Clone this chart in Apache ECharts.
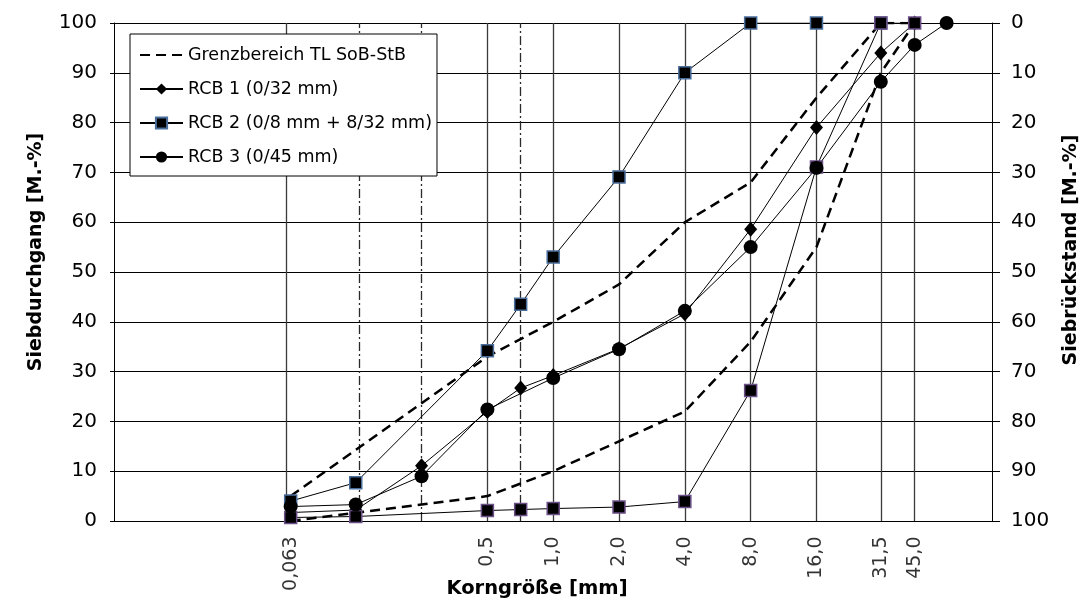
<!DOCTYPE html>
<html>
<head>
<meta charset="utf-8">
<script src="https://cdn.jsdelivr.net/npm/echarts@6/dist/echarts.min.js"></script>
<style>
  html, body { margin: 0; padding: 0; background: #fff; }
  #chart { width: 1087px; height: 602px; }
</style>
</head>
<body>
<div id="chart"></div>
<script>
// Sieve sizes [mm] shown on the logarithmic grain-size axis
const labelledSieves = [0.063, 0.5, 1, 2, 4, 8, 16, 31.5, 45];
const sieveLabels = ['0,063', '0,5', '1,0', '2,0', '4,0', '8,0', '16,0', '31,5', '45,0'];
const solidGridSieves = [0.063, 0.5, 1, 2, 4, 8, 16, 31.5, 45];
const dashDotGridSieves = [0.125, 0.25, 0.71];

// Grading envelope TL SoB-StB (passing, M.-%)
const limitSieves = [0.063, 0.5, 1, 2, 4, 8, 16, 31.5, 45];
const limitUpper = [5, 33, 40, 47.5, 60, 68, 85, 100, 100];
const limitLower = [0, 5, 10, 16, 22, 36, 55, 90, 100];

// RCB 1 (0/32 mm)
const rcb1Sieves = [0.063, 0.125, 0.25, 0.5, 0.71, 1, 2, 4, 8, 16, 31.5, 45];
const rcb1 = [1.7, 2.2, 11.1, 22, 26.7, 29.2, 34.6, 41.6, 58.6, 79, 94, 100];

// RCB 2 (0/8 mm fraction and 8/32 mm fraction)
const rcb2FineSieves = [0.063, 0.125, 0.5, 0.71, 1, 2, 4, 8, 16, 31.5];
const rcb2Fine = [4.0, 7.7, 34.2, 43.5, 53, 69.1, 90, 100, 100, 100];
const rcb2CoarseSieves = [0.063, 0.125, 0.5, 0.71, 1, 2, 4, 8, 16, 31.5, 45];
const rcb2Coarse = [0.7, 0.9, 2.1, 2.3, 2.5, 2.8, 3.9, 26.2, 71.1, 100, 100];

// RCB 3 (0/45 mm)
const rcb3Sieves = [0.063, 0.125, 0.25, 0.5, 1, 2, 4, 8, 16, 31.5, 45, 63];
const rcb3 = [2.9, 3.3, 9.0, 22.4, 28.7, 34.5, 42.2, 55, 70.9, 88.2, 95.6, 100];

const NAME_LIMIT = 'Grenzbereich TL SoB-StB';
const NAME_RCB1 = 'RCB 1 (0/32 mm)';
const NAME_RCB2 = 'RCB 2 (0/8 mm + 8/32 mm)';
const NAME_RCB3 = 'RCB 3 (0/45 mm)';

const FONT = '"DejaVu Sans", "Liberation Sans", Arial, sans-serif';

const pairs = (xs, ys) => xs.map((x, i) => [x, ys[i]]);

const thinLine = { color: '#000', width: 1 };

const gridLines = solidGridSieves.map(v => ({
  xAxis: v, lineStyle: { color: '#3a3a3a', width: 1.3, type: 'solid' }
})).concat(dashDotGridSieves.map(v => ({
  xAxis: v, lineStyle: { color: '#2a2a2a', width: 1.3, type: [9, 3, 2, 3] }
})));

const chart = echarts.init(document.getElementById('chart'), null, { renderer: 'canvas' });

chart.setOption({
  animation: false,
  backgroundColor: '#fff',
  textStyle: { fontFamily: FONT, color: '#000' },
  grid: { left: 114, right: 95, top: 23, bottom: 81, containLabel: false },
  xAxis: {
    type: 'log',
    logBase: 2,
    min: 0.0098,
    max: 101.6,
    axisLine: { show: true, lineStyle: { color: '#000', width: 1 } },
    axisTick: { show: false },
    axisLabel: { show: false },
    splitLine: { show: false }
  },
  yAxis: [
    {
      type: 'value', min: 0, max: 100, interval: 10, position: 'left',
      axisLine: { show: true, lineStyle: { color: '#000', width: 1 } },
      axisTick: { show: true, length: 4, lineStyle: { color: '#000' } },
      axisLabel: { fontSize: 20, fontFamily: FONT, color: '#000', margin: 17 },
      splitLine: { show: true, lineStyle: { color: '#000', width: 1 } }
    },
    {
      type: 'value', min: 0, max: 100, interval: 10, position: 'right', inverse: true,
      axisLine: { show: true, lineStyle: { color: '#000', width: 1 } },
      axisTick: { show: true, length: 8, lineStyle: { color: '#000' } },
      axisLabel: { fontSize: 20, fontFamily: FONT, color: '#000', margin: 19 },
      splitLine: { show: false }
    }
  ],
  legend: {
    orient: 'vertical',
    left: 130,
    top: 34,
    data: [
      { name: NAME_LIMIT, itemStyle: { opacity: 0 } },
      NAME_RCB1, NAME_RCB2, NAME_RCB3
    ],
    itemWidth: 43,
    itemHeight: 14,
    itemGap: 16,
    padding: [12, 5, 10, 9],
    backgroundColor: '#fff',
    borderColor: '#000',
    borderWidth: 1,
    textStyle: { fontFamily: FONT, fontSize: 17.5, color: '#000' }
  },
  graphic: [
    {
      type: 'text', x: 36, y: 252, rotation: Math.PI / 2,
      style: { text: 'Siebdurchgang [M.-%]', font: 'bold 19px ' + FONT, fill: '#000', align: 'center', verticalAlign: 'middle' }
    },
    {
      type: 'text', x: 1071, y: 250, rotation: Math.PI / 2,
      style: { text: 'Siebrückstand [M.-%]', font: 'bold 19px ' + FONT, fill: '#000', align: 'center', verticalAlign: 'middle' }
    },
    {
      type: 'text', x: 537, y: 589,
      style: { text: 'Korngröße [mm]', font: 'bold 19.5px ' + FONT, fill: '#000', align: 'center', verticalAlign: 'middle' }
    }
  ],
  series: [
    {
      name: NAME_LIMIT, type: 'line', data: pairs(limitSieves, limitUpper),
      symbol: 'none', lineStyle: { color: '#000', width: 2.5, type: [10, 6] },
      itemStyle: { color: '#000' }, z: 3,
      markLine: {
        silent: true, z: 1, symbol: ['none', 'none'], label: { show: false },
        emphasis: { disabled: true }, data: gridLines
      }
    },
    {
      name: NAME_LIMIT, type: 'line', data: pairs(limitSieves, limitLower),
      symbol: 'none', lineStyle: { color: '#000', width: 2.5, type: [10, 6] },
      itemStyle: { color: '#000' }, z: 3
    },
    {
      name: NAME_RCB1, type: 'line', data: pairs(rcb1Sieves, rcb1),
      symbol: 'diamond', symbolSize: [13, 15], lineStyle: thinLine,
      itemStyle: { color: '#000' }, z: 4
    },
    {
      name: NAME_RCB2, type: 'line', data: pairs(rcb2FineSieves, rcb2Fine),
      symbol: 'rect', symbolSize: 12, lineStyle: thinLine,
      itemStyle: { color: '#000', borderColor: '#4a6e9c', borderWidth: 1.5 }, z: 4
    },
    {
      name: NAME_RCB2, type: 'line', data: pairs(rcb2CoarseSieves, rcb2Coarse),
      symbol: 'rect', symbolSize: 12, lineStyle: thinLine,
      itemStyle: { color: '#000', borderColor: '#6b5088', borderWidth: 1.5 }, z: 4
    },
    {
      name: NAME_RCB3, type: 'line', data: pairs(rcb3Sieves, rcb3),
      symbol: 'circle', symbolSize: 14, lineStyle: thinLine,
      itemStyle: { color: '#000' }, z: 4
    },
    {
      // sieve size labels beneath the axis
      name: 'sieve-labels', type: 'scatter',
      data: labelledSieves.map(v => [v, 0]),
      symbolSize: 1, itemStyle: { color: 'rgba(0,0,0,0)' }, silent: true, clip: false,
      label: {
        show: true, position: 'bottom', distance: 15, rotate: 90,
        align: 'right', verticalAlign: 'middle',
        fontFamily: FONT, fontSize: 19, color: '#000',
        formatter: p => sieveLabels[p.dataIndex]
      }
    }
  ]
});
</script>
</body>
</html>
